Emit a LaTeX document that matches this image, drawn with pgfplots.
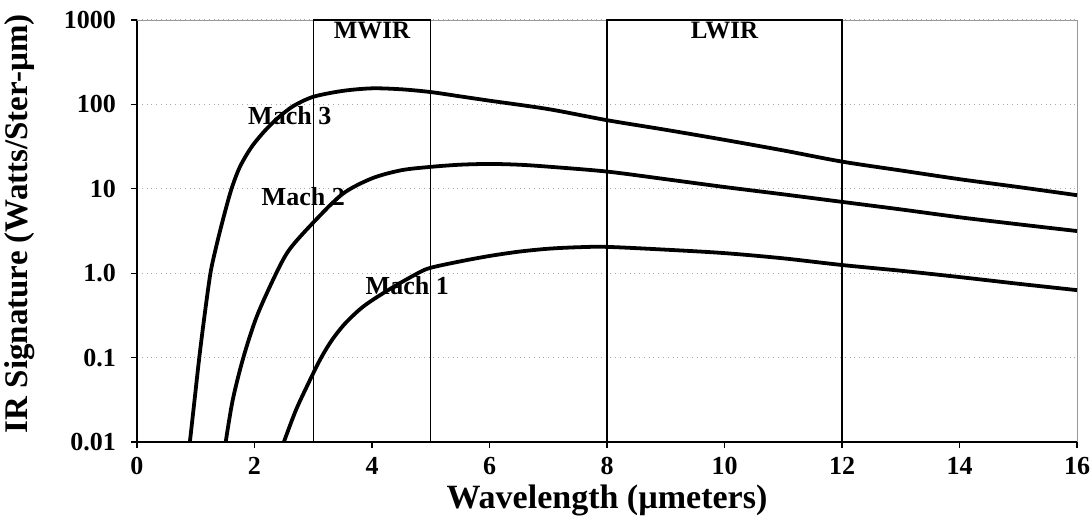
\documentclass[border=0pt]{standalone}
\usepackage{fontspec}
\setmainfont{Liberation Serif}
\usepackage{pgfplots}
\pgfplotsset{compat=1.18}
\begin{document}
\begin{tikzpicture}
\begin{axis}[
  width=470bp, height=211bp, scale only axis,
  xmin=0, xmax=16, ymin=0.01, ymax=1000,
  ymode=log,
  axis lines*=left,
  axis line style={black, line width=0.8pt},
  tick align=outside,
  major tick length=3bp,
  tick style={black, line width=0.6pt},
  xtick={0,2,4,6,8,10,12,14,16},
  xticklabels={0,2,4,6,8,10,12,14,16},
  ytick={0.01,0.1,1,10,100,1000},
  yticklabels={0.01,0.1,1.0,10,100,1000},
  yminorticks=false,
  ticklabel style={font=\fontsize{13bp}{15bp}\selectfont\bfseries},
  xticklabel style={inner sep=1bp, yshift=-3.3bp},
  yticklabel style={xshift=-4bp},
  ymajorgrids,
  major grid style={gray!70, dotted, line width=0.6pt},
  xlabel={Wavelength (µmeters)},
  ylabel={IR Signature (Watts/Ster-µm)},
  xlabel style={font=\fontsize{17bp}{20bp}\selectfont\bfseries, inner sep=0pt, at={(axis description cs:0.5,-0.1564)}, anchor=base},
  ylabel style={font=\fontsize{16.5bp}{19bp}\selectfont\bfseries, inner sep=0pt, at={(axis description cs:-0.1245,0.517)}, anchor=center},
  clip=false,
]
\path (rel axis cs:0,0) ++(-68.5bp,-43.5bp);
\path (rel axis cs:1,1) ++(7.5bp,10bp);
\draw[gray!80, line width=0.5pt] (rel axis cs:0,1) -- (rel axis cs:1,1) -- (rel axis cs:1,0);
\draw[black, line width=0.7pt] (axis cs:3,0.01) rectangle (axis cs:5,1000);
\draw[black, line width=0.7pt] (axis cs:8,0.01) rectangle (axis cs:12,1000);
\node[font=\fontsize{12.5bp}{14bp}\selectfont\bfseries] at (axis cs:4,741) {MWIR};
\node[font=\fontsize{12.5bp}{14bp}\selectfont\bfseries] at (axis cs:10,741) {LWIR};

\addplot[black, line width=1.9pt, smooth, tension=0.5] coordinates {
(0.90,0.01)(0.98,0.0316)(1.06,0.1)(1.15,0.316)(1.25,1)(1.34,1.95)(1.45,3.98)(1.60,9.55)
(1.75,18.1)(1.95,31.3)(2.18,49)(2.40,69.2)(2.66,95.5)(3,123)(3.5,144.5)(4,155)(4.5,151)
(5,140)(5.5,124.5)(6,110.7)(7,88)(8,65)(9,50)(10,38)(11,28.5)(12,21)(13,16.5)(14,13)
(15,10.5)(16,8.4)};
\addplot[black, line width=1.9pt, smooth, tension=0.5] coordinates {
(1.51,0.01)(1.63,0.0316)(1.81,0.1)(2.04,0.309)(2.37,1)(2.6,1.93)(3,3.98)(3.5,8.7)
(4,13.3)(4.5,16.6)(5,18.2)(5.5,19.3)(6,19.7)(6.5,19.3)(7,18.3)(8,16)(9,13)(10,10.5)
(11,8.6)(12,7.0)(13,5.7)(14,4.6)(15,3.8)(16,3.16)};
\addplot[black, line width=1.9pt, smooth, tension=0.5] coordinates {
(2.5,0.01)(2.7,0.0234)(2.9,0.0468)(3.12,0.0955)(3.32,0.162)(3.55,0.257)(3.86,0.407)
(4.29,0.64)(4.78,1)(5,1.16)(5.5,1.38)(6,1.6)(6.5,1.8)(7,1.95)(7.5,2.03)(8,2.05)(9,1.9)
(10,1.73)(11,1.5)(12,1.25)(13,1.07)(14,0.9)(15,0.75)(16,0.63)};

\node[font=\fontsize{13bp}{15bp}\selectfont\bfseries] at (axis cs:2.6,73) {Mach 3};
\node[font=\fontsize{13bp}{15bp}\selectfont\bfseries] at (axis cs:2.83,8.0) {Mach 2};
\node[font=\fontsize{13bp}{15bp}\selectfont\bfseries] at (axis cs:4.6,0.72) {Mach 1};
\end{axis}
\end{tikzpicture}
\end{document}
